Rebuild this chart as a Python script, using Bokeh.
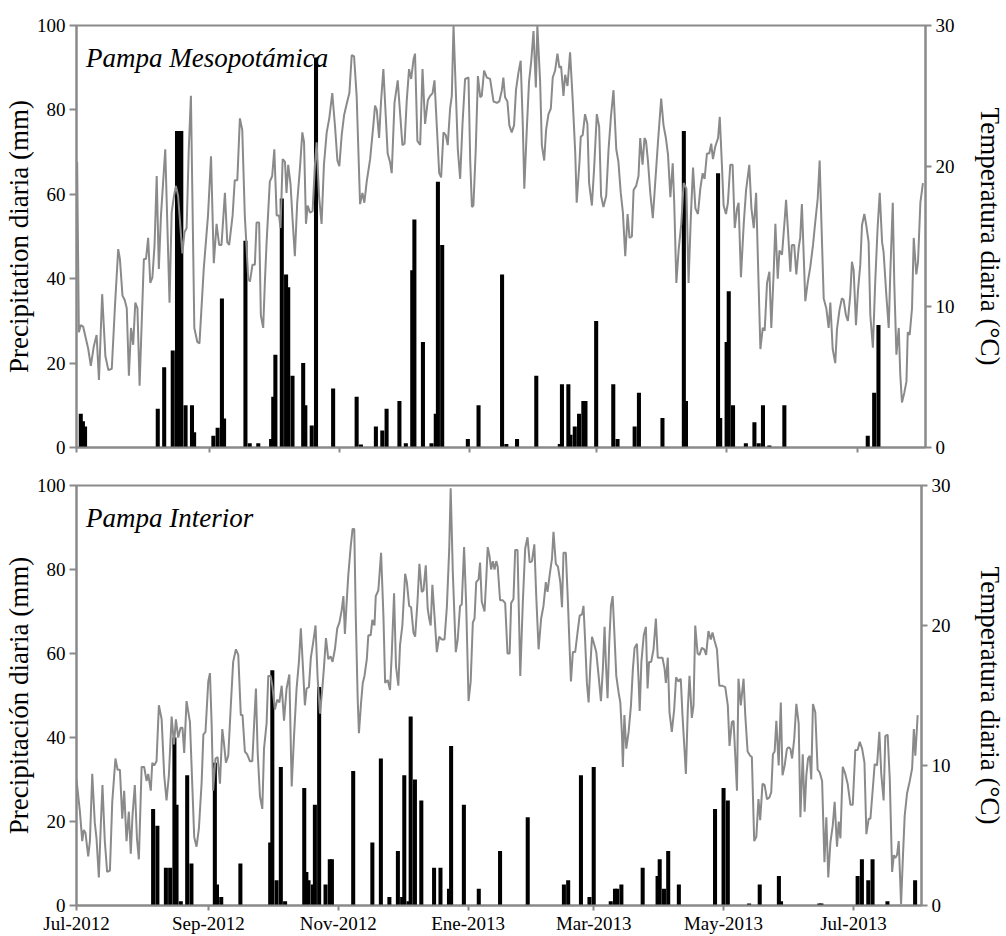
import datetime as dt
from bokeh.plotting import figure
from bokeh.models import Range1d, LinearAxis, FixedTicker, Label
from bokeh.layouts import column
from bokeh.embed import file_html
from bokeh.resources import INLINE

# ---------------- data ----------------
start_date = dt.date(2012, 7, 1)
tick_dates = [dt.date(2012, 7, 1), dt.date(2012, 9, 1), dt.date(2012, 11, 1), dt.date(2013, 1, 1),
              dt.date(2013, 3, 1), dt.date(2013, 5, 1), dt.date(2013, 7, 1)]
tick_labels = ["Jul-2012", "Sep-2012", "Nov-2012", "Ene-2013", "Mar-2013", "May-2013", "Jul-2013"]
n_days = 397

# Pampa Mesopotamica - daily precipitation (day since 1-Jul-2012, mm)
meso_rain_day = [2, 3, 4, 38, 41, 45, 47, 48, 49, 51, 54, 55,
                 64, 66, 68, 69, 79, 81, 85, 91, 92, 93, 96, 98, 99, 101, 106, 107, 110, 112, 120,
                 131, 133, 140, 143, 145, 151, 154, 157, 158, 162, 166, 168, 169, 171, 183, 188,
                 199, 201, 206, 215, 226, 227, 230, 231, 233, 235, 237, 238, 243, 251, 253, 261, 263,
                 274, 284, 285, 300, 301, 304, 305, 307, 313, 317, 319, 321, 324, 331,
                 370, 373, 375]
meso_rain_mm = [8, 6.2, 5, 9.2, 19, 23, 75, 75, 75, 10, 10, 3.6,
                2.8, 4.7, 35.3, 6.9, 49, 1, 1, 2, 12, 22, 59, 41, 38, 17, 20, 10, 5.2, 92.4, 14,
                12, 0.7, 5, 4, 9.2, 11, 1, 42, 54, 25, 1, 8, 63, 48, 2, 10,
                41, 0.8, 2, 17, 0.8, 15, 15, 3, 5, 8, 11, 11, 30, 15, 2, 5, 13,
                7, 75, 11, 65, 7, 25, 37, 10, 1, 6, 1, 10, 0.5, 10,
                2.8, 13, 29]

# Pampa Mesopotamica - daily temperature (day, degC)
meso_temp_day = [0.3, 1.1, 2.0, 3.1, 5.5, 6.7, 8.1, 9.4, 10.5, 12.0, 13.5, 14.9, 16.5, 18.0, 19.5, 20.3, 21.5, 22.5,
                 23.5, 24.5, 25.5, 26.5, 27.5, 28.5, 29.5, 31.5, 32.5, 33.5, 34.5, 35.5, 36.5, 37.5, 38.5, 39.5,
                 41.5, 43.5, 44.5, 45.5, 46.5, 47.5, 49.5, 50.5, 51.5, 52.5, 53.5, 55.1, 56.5, 57.5, 59.5, 61.5,
                 62.9, 64.2, 65.5, 66.7, 67.8, 69.4, 70.5, 71.4, 73.0, 74.0, 75.2, 76.4, 77.5, 78.7, 80.3, 81.1,
                 82.3, 83.4, 84.2, 85.4, 86.2, 87.3, 88.1, 88.9, 90.4, 91.5, 92.5, 93.6, 94.7, 95.4, 96.4, 97.5,
                 98.2, 99.0, 100.1, 101.0, 102.1, 103.2, 104.5, 105.6, 106.4, 107.3, 108.1, 109.2, 110.4, 111.5,
                 112.3, 113.4, 114.6, 115.7, 117.0, 118.2, 119.6, 120.9, 122.0, 122.9, 124.0, 125.1, 126.3, 127.6,
                 128.7, 129.8, 131.0, 132.6, 133.7, 134.6, 135.7, 137.3, 138.8, 139.6, 140.4, 141.5, 142.4, 143.5,
                 144.6, 145.5, 146.6, 147.4, 148.7, 150.2, 151.3, 152.4, 153.4, 154.4, 155.5, 156.5, 157.6, 158.3,
                 159.4, 160.7, 161.8, 163.0, 164.3, 165.4, 166.5, 167.4, 168.5, 169.6, 170.5, 171.6, 172.7, 173.6,
                 174.7, 175.5, 176.3, 177.4, 178.3, 179.4, 180.5, 181.7, 183.3, 184.1, 184.9, 185.6, 186.7, 187.7,
                 188.8, 189.5, 190.6, 191.9, 193.4, 195.0, 196.6, 197.7, 198.9, 199.6, 200.4, 201.5, 202.4, 203.5,
                 204.6, 205.5, 206.6, 207.7, 208.7, 209.4, 210.5, 211.6, 212.6, 213.7, 214.8, 215.5, 216.8, 217.6,
                 218.7, 219.6, 220.7, 221.8, 222.7, 223.8, 224.9, 225.8, 226.6, 227.7, 228.5, 229.6, 230.8, 232.1,
                 233.2, 233.9, 235.2, 235.8, 236.7, 237.8, 238.9, 239.7, 241.0, 242.1, 243.3, 244.4, 245.3, 246.4,
                 247.7, 248.8, 249.9, 251.1, 252.4, 253.4, 254.5, 255.5, 256.6, 257.7, 258.6, 259.7, 260.5, 261.7,
                 262.8, 263.6, 264.7, 265.6, 266.3, 267.2, 268.3, 269.5, 270.6, 271.9, 273.4, 274.5, 275.6, 276.6,
                 277.7, 278.8, 279.5, 280.5, 281.6, 282.8, 283.9, 285.2, 286.2, 287.3, 288.3, 289.4, 290.6, 291.7,
                 292.8, 293.7, 294.8, 295.9, 296.8, 297.6, 298.7, 300.0, 300.8, 301.8, 302.6, 303.7, 304.6, 305.7,
                 306.8, 307.8, 308.9, 309.6, 310.7, 312.0, 313.1, 314.6, 315.6, 316.7, 317.8, 318.7, 319.8, 320.9,
                 321.8, 322.9, 324.0, 324.9, 326.0, 326.8, 327.9, 328.7, 329.9, 331.2, 331.8, 332.7, 333.8, 334.5,
                 335.6, 336.6, 337.7, 338.4, 339.2, 340.8, 341.9, 343.1, 344.4, 345.5, 346.6, 347.5, 348.6, 349.4,
                 350.6, 351.7, 352.5, 353.6, 354.8, 355.6, 356.8, 357.9, 358.7, 359.8, 360.7, 361.8, 362.6, 363.4,
                 364.5, 365.4, 366.5, 367.3, 368.4, 369.3, 370.4, 371.2, 372.4, 373.5, 374.6, 375.6, 376.7, 377.4,
                 378.7, 379.8, 380.6, 381.7, 382.4, 383.4, 384.5, 385.2, 386.0, 387.1, 388.1, 388.7, 389.6, 390.7,
                 391.5, 392.7, 393.5, 394.6, 395.8]
meso_temp_c = [20.3, 8.2, 8.7, 8.6, 7.0, 5.8, 7.2, 8.0, 4.8, 10.9, 6.5, 5.5, 5.6, 10.1, 14.1, 13.4, 10.8, 10.5,
               9.9, 5.1, 8.5, 7.3, 10.3, 9.9, 4.4, 13.4, 13.4, 14.9, 11.7, 12.1, 14.4, 19.3, 12.7, 16.5,
               21.2, 10.3, 16.7, 17.8, 18.6, 17.9, 13.8, 15.3, 15.6, 21.2, 25.0, 8.5, 7.5, 7.4, 12.7, 16.5,
               20.7, 13.1, 15.9, 14.4, 14.4, 18.1, 14.6, 14.4, 16.5, 19.0, 19.0, 23.4, 22.6, 16.5, 12.0, 11.8,
               13.0, 13.0, 16.0, 16.0, 9.4, 8.5, 11.8, 14.6, 18.9, 19.3, 21.2, 16.5, 16.5, 15.6, 20.5, 20.3,
               18.1, 20.1, 18.7, 16.3, 13.6, 17.4, 19.9, 22.4, 21.7, 15.9, 17.2, 16.7, 16.8, 20.1,
               21.7, 17.9, 15.9, 20.1, 22.4, 23.4, 25.2, 22.8, 20.4, 20.0, 22.2, 23.6, 24.4, 25.2,
               27.9, 27.8, 25.0, 17.3, 18.1, 17.4, 18.9, 20.5, 22.9, 24.3, 24.0, 22.0, 24.6, 26.9,
               23.6, 20.9, 20.3, 19.5, 24.5, 26.1, 23.8, 21.5, 21.6, 24.6, 26.9, 26.2, 27.6, 28.0,
               21.8, 21.5, 26.9, 23.0, 24.7, 25.0, 25.2, 26.1, 22.8, 19.5, 19.2, 22.4, 22.2, 21.5,
               24.1, 25.0, 30.0, 25.2, 21.2, 19.1, 23.0, 26.2, 26.3, 20.4, 17.1, 17.2, 21.2, 26.4,
               24.9, 25.0, 26.8, 26.3, 26.2, 24.6, 24.5, 24.6, 25.4, 26.3, 24.9, 24.6, 22.9, 22.4,
               22.9, 25.4, 26.6, 27.5, 22.9, 18.4, 22.4, 26.0, 27.4, 29.6, 25.6, 30.0, 26.0, 21.5,
               20.4, 22.6, 23.7, 24.1, 26.3, 26.8, 28.0, 27.0, 27.1, 25.0, 26.5, 25.7, 28.1, 24.5,
               21.0, 17.4, 20.3, 22.1, 22.2, 23.7, 23.0, 18.8, 17.2, 20.0, 23.7, 22.8, 17.9, 17.1,
               17.9, 21.2, 23.5, 25.4, 21.2, 20.3, 18.1, 16.7, 13.6, 16.6, 14.9, 15.0, 18.3, 18.6,
               19.3, 22.0, 20.1, 22.0, 21.8, 20.4, 18.1, 16.3, 18.8, 21.7, 24.8, 22.9, 22.0, 20.8,
               17.8, 20.2, 17.4, 11.7, 14.1, 15.9, 18.8, 18.4, 11.7, 16.5, 19.9, 17.0, 16.6, 18.4,
               19.5, 19.1, 20.9, 20.9, 21.6, 20.5, 21.4, 22.0, 23.5, 20.1, 17.2, 16.6, 17.4, 20.1,
               20.1, 15.6, 17.0, 17.4, 12.1, 15.9, 18.3, 20.1, 17.0, 15.6, 18.1, 13.0, 7.0, 8.5,
               8.3, 11.7, 12.5, 8.5, 12.4, 15.9, 12.0, 14.0, 13.7, 16.3, 17.6, 15.4, 12.5, 14.4,
               14.4, 12.3, 14.2, 14.9, 17.3, 10.4, 11.7, 12.8, 14.4, 16.1, 17.7, 20.4, 14.6, 10.6,
               9.9, 8.5, 10.3, 7.0, 6.0, 8.4, 9.8, 10.6, 10.5, 9.4, 9.0, 10.8, 13.2, 12.6,
               8.7, 11.1, 13.0, 15.8, 16.6, 15.8, 14.6, 9.4, 7.1, 11.8, 15.6, 18.1, 14.6, 13.9,
               10.8, 8.5, 12.7, 17.4, 11.7, 6.6, 8.5, 5.2, 3.2, 3.9, 4.7, 8.2, 8.0, 9.9,
               14.9, 12.3, 13.2, 17.4, 18.8]

# Pampa Interior - daily precipitation (day since 1-Jul-2012, mm)
int_rain_day = [36, 38, 42, 44, 46, 47, 49, 52, 54,
                65, 66, 68, 77, 91, 92, 94, 96, 98, 107, 108, 109, 111, 112, 114, 117, 119, 120, 130,
                139, 143, 147, 151, 153, 154, 156, 157, 159, 162, 168, 171, 175, 176, 182, 189, 199,
                212, 229, 231, 237, 241, 243, 251, 253, 254, 256, 266,
                273, 274, 276, 278, 283, 300, 304, 306, 316, 321, 330, 331,
                349, 350, 367, 369, 372, 374, 381, 394]
int_rain_mm = [23, 19, 9, 9, 40, 24, 1, 31, 10,
               34, 5, 2, 10, 15, 56, 6, 33, 1, 28, 8, 6, 5, 24, 52, 5, 11, 11, 32,
               15, 35, 2, 13, 2, 31, 1, 45, 30, 25, 9, 9, 4, 38, 24, 4, 13,
               21, 5, 6, 31, 2, 33, 1, 4, 4, 5, 9,
               7, 11, 4, 13, 5, 23, 28, 25, 0.5, 5, 7, 1,
               0.5, 0.5, 7, 11, 6, 11, 1, 6]

# Pampa Interior - daily temperature (day, degC)
int_temp_day = [0.0, 1.6, 2.7, 3.4, 4.2, 5.5, 6.3, 7.4, 8.6, 9.4, 10.5, 11.4, 12.2, 13.3, 14.4, 15.7, 16.8, 18.3,
                19.3, 20.4, 21.5, 22.4, 23.5, 24.6, 25.5, 26.3, 27.4, 28.4, 29.3, 30.6, 31.8, 32.9, 33.7, 34.9,
                35.6, 36.5, 37.6, 38.7, 40.0, 41.2, 42.3, 43.4, 44.7, 45.8, 46.7, 47.8, 48.9, 49.8, 50.6, 51.7,
                53.3, 54.4, 55.3, 56.4, 57.5, 58.8, 59.6, 60.6, 61.9, 62.7, 63.5, 64.2, 65.3, 66.3, 67.4, 68.5,
                69.2, 70.2, 71.3, 72.4, 73.6, 74.9, 76.0, 77.2, 78.0, 79.1, 80.2, 81.5, 82.6, 83.4, 84.3, 85.1,
                86.2, 87.3, 88.1, 89.3, 90.1, 91.2, 92.0, 93.2, 94.3, 95.3, 96.4, 97.5, 98.7, 100.0, 101.1, 102.2,
                103.4, 104.5, 105.4, 106.5, 107.3, 108.1, 109.2, 110.1, 111.2, 112.3, 113.3, 114.4, 115.5, 116.3,
                117.2, 118.3, 119.4, 120.3, 121.4, 122.5, 123.5, 124.6, 125.4, 126.1, 126.9, 127.7, 128.8, 129.7,
                130.5, 131.2, 132.1, 132.7, 133.7, 134.5, 135.3, 136.4, 137.1, 138.2, 139.0, 140.0, 140.6, 141.8,
                143.1, 144.2, 145.0, 146.2, 147.3, 148.1, 149.2, 150.1, 151.2, 152.0, 153.1, 154.4, 155.2, 156.3,
                157.2, 158.3, 159.1, 160.2, 161.1, 162.2, 163.0, 164.1, 165.0, 165.7, 166.4, 167.2, 168.2, 169.3,
                170.4, 171.6, 172.9, 174.0, 175.1, 175.8, 176.8, 178.2, 179.1, 180.2, 181.0, 182.1, 183.1, 184.2,
                185.2, 186.2, 187.0, 187.8, 188.9, 189.6, 190.4, 191.7, 192.5, 193.2, 194.0, 194.8, 195.6, 196.4,
                197.2, 197.9, 199.0, 200.3, 201.4, 202.5, 203.5, 204.2, 205.3, 206.1, 207.2, 208.5, 209.7, 210.8,
                211.9, 212.9, 214.0, 215.1, 216.0, 217.1, 218.3, 219.4, 220.5, 221.3, 222.3, 223.4, 224.1, 225.2,
                226.2, 227.3, 228.1, 228.8, 229.9, 230.9, 231.7, 232.3, 233.2, 234.3, 235.4, 236.4, 237.5, 238.2,
                239.0, 239.8, 240.6, 241.4, 242.2, 243.3, 244.2, 245.3, 246.4, 247.3, 248.1, 248.7, 249.5, 250.3,
                251.1, 251.9, 252.7, 253.6, 254.7, 255.5, 256.3, 256.7, 257.4, 258.3, 259.4, 260.5, 261.4, 262.2,
                263.3, 264.1, 264.6, 265.4, 266.5, 267.5, 268.3, 269.0, 270.0, 271.1, 272.2, 273.1, 274.2, 275.3,
                276.3, 276.9, 277.8, 278.6, 279.7, 280.8, 281.7, 282.8, 283.9, 284.7, 285.7, 286.3, 287.2, 288.0,
                289.1, 289.9, 290.7, 291.8, 292.7, 293.8, 294.9, 295.8, 296.9, 298.0, 298.8, 299.8, 300.9, 302.0,
                303.2, 304.8, 306.0, 306.8, 307.9, 308.7, 310.3, 311.0, 312.1, 313.4, 314.2, 315.3, 316.5, 317.3,
                318.4, 319.4, 320.4, 321.2, 322.3, 323.3, 324.4, 325.5, 326.4, 327.2, 328.0, 328.8, 329.9, 330.9,
                331.7, 332.7, 333.8, 334.6, 335.4, 336.2, 337.2, 338.2, 339.3, 340.1, 341.2, 342.1, 342.9, 343.7,
                344.5, 345.2, 346.0, 347.1, 348.2, 349.2, 350.3, 351.4, 352.3, 353.2, 354.2, 355.3, 356.2, 357.3,
                358.1, 358.9, 360.0, 361.2, 362.3, 363.6, 364.7, 365.9, 367.0, 368.0, 369.1, 370.2, 371.1, 372.2,
                373.0, 374.2, 375.0, 376.1, 377.2, 378.1, 379.2, 380.0, 381.1, 382.1, 383.2, 384.0, 384.7, 385.5,
                386.3, 387.4, 388.3, 389.1, 390.2, 391.5, 392.6, 393.4, 394.1, 395.2]
int_temp_c = [9.0, 6.7, 4.6, 5.4, 5.2, 3.5, 4.6, 9.4, 5.9, 4.8, 2.0, 5.7, 8.6, 4.6, 2.4, 2.5, 7.4, 10.5,
              9.7, 9.7, 6.2, 8.2, 4.6, 6.7, 3.7, 6.4, 8.6, 4.8, 3.3, 9.9, 9.9, 8.9, 9.4, 8.2,
              10.2, 10.0, 10.3, 14.3, 13.3, 9.3, 7.5, 9.3, 13.5, 11.5, 13.3, 12.0, 12.7, 12.7, 10.9, 14.6,
              13.1, 8.6, 4.9, 4.2, 5.5, 8.8, 12.2, 12.4, 16.0, 16.6, 12.9, 8.2, 10.5, 10.6, 8.7, 12.6,
              11.7, 10.2, 10.7, 14.0, 17.4, 18.3, 17.9, 13.6, 13.6, 11.0, 10.8, 10.3, 10.3, 12.8, 15.5, 11.0,
              7.8, 6.9, 11.2, 13.0, 16.4, 16.4, 15.7, 14.0, 14.7, 14.5, 15.7, 13.2, 15.5, 16.5, 8.5, 12.1,
              15.5, 17.4, 19.8, 16.7, 14.3, 15.5, 15.6, 17.7, 18.8, 20.0, 16.2, 13.7, 15.5, 17.1,
              19.1, 17.6, 17.8, 17.4, 18.3, 19.8, 20.2, 21.1, 22.1, 19.4, 21.6, 23.6, 25.6, 26.9,
              26.9, 20.7, 14.8, 12.3, 14.5, 15.9, 16.4, 17.6, 19.3, 19.3, 20.4, 20.0, 22.1, 22.5,
              25.2, 20.7, 15.9, 16.1, 15.4, 17.9, 22.3, 17.1, 15.7, 18.6, 20.0, 23.7, 23.1, 21.4,
              21.3, 19.5, 19.2, 21.7, 24.4, 22.4, 22.5, 24.3, 21.2, 20.5, 20.0, 22.9, 20.7, 18.1,
              19.2, 19.0, 19.0, 21.3, 25.4, 29.8, 23.8, 18.1, 19.0, 21.4, 21.5, 25.6, 21.4, 14.6,
              16.0, 20.2, 20.5, 23.1, 23.3, 24.5, 21.7, 21.0, 23.3, 25.6, 25.0, 24.0, 24.6, 24.0,
              24.6, 24.2, 21.8, 21.8, 21.6, 18.0, 18.0, 21.6, 21.9, 25.4, 25.4, 16.4, 21.7, 25.5,
              26.3, 24.5, 24.6, 25.8, 22.1, 18.3, 20.5, 21.4, 23.1, 22.4, 23.6, 24.8, 26.7, 24.4,
              24.2, 23.1, 21.3, 25.2, 25.2, 21.6, 18.3, 16.0, 18.1, 18.1, 19.5, 20.7, 20.8, 21.4,
              18.8, 15.9, 14.5, 17.1, 19.2, 18.6, 18.1, 16.4, 14.6, 16.9, 19.9, 17.4, 14.8, 18.8,
              21.4, 22.1, 19.5, 16.4, 15.2, 14.5, 12.1, 9.9, 13.6, 11.2, 12.4, 14.3, 16.9, 18.4,
              18.7, 16.0, 13.9, 17.4, 19.3, 19.9, 15.5, 17.4, 17.4, 18.3, 20.5, 17.7, 17.7, 17.7,
              16.9, 15.9, 17.7, 13.8, 12.4, 14.0, 16.3, 16.0, 16.2, 13.6, 11.0, 9.4, 14.0, 16.4,
              13.4, 14.3, 20.0, 18.0, 17.9, 18.4, 18.3, 17.9, 19.6, 19.0, 19.5, 18.9, 18.3, 15.7,
              15.7, 15.6, 14.3, 11.4, 13.1, 13.2, 8.2, 16.2, 14.3, 16.2, 13.6, 11.0, 10.7, 10.6,
              4.6, 4.9, 7.6, 6.1, 8.7, 8.6, 7.6, 7.7, 8.1, 10.8, 11.0, 13.2, 10.0, 14.5,
              9.3, 10.0, 11.2, 11.3, 11.2, 10.5, 11.9, 14.4, 13.0, 6.3, 10.8, 6.7, 9.3, 10.5,
              10.7, 9.0, 14.4, 13.8, 9.7, 9.5, 8.9, 3.1, 6.3, 2.0, 4.5, 5.7, 7.4, 4.2,
              6.0, 4.8, 9.9, 9.4, 8.7, 7.2, 7.2, 11.1, 11.1, 11.7, 11.2, 10.2, 5.1, 6.2,
              6.2, 8.5, 10.1, 10.0, 12.4, 9.4, 7.5, 12.1, 12.2, 9.0, 2.4, 3.6, 3.4, 3.6,
              4.6, 0.1, 3.6, 6.4, 8.0, 8.9, 9.8, 12.6, 10.7, 13.6]

precip_ticks = [0, 20, 40, 60, 80, 100]
temp_ticks = [0, 10, 20, 30]

# ---------------- style ----------------
GRAY = "#8a8a8a"
FONT = "Liberation Serif"
tick_pos = [(d - start_date).days for d in tick_dates]


def make_panel(title, ylabel, rain_d, rain_v, temp_d, temp_v, frame_w, frame_h,
               border_top, border_bottom, show_xlabels, right_standoff):
    p = figure(frame_width=frame_w, frame_height=frame_h,
               x_range=Range1d(0, n_days), y_range=Range1d(0, 100),
               output_backend="svg", toolbar_location=None,
               min_border_left=75, min_border_right=1006 - 75 - frame_w,
               min_border_top=border_top, min_border_bottom=border_bottom)
    p.extra_y_ranges = {"temp": Range1d(0, 30)}
    p.grid.visible = False
    p.outline_line_color = GRAY
    p.outline_line_width = 2
    p.background_fill_color = "white"
    p.border_fill_color = "white"

    p.vbar(x=rain_d, top=rain_v, width=1.9, fill_color="black", line_color=None)
    p.line(temp_d, temp_v, y_range_name="temp", line_color=GRAY, line_width=2)

    raxis = LinearAxis(y_range_name="temp")
    p.add_layout(raxis, "right")

    for ax in p.axis:
        ax.axis_line_color = GRAY
        ax.axis_line_width = 2
        ax.major_tick_line_color = GRAY
        ax.major_tick_line_width = 2
        ax.minor_tick_line_color = None
        ax.major_tick_in = 0
        ax.major_label_text_font = FONT
        ax.major_label_text_font_size = "19px"
        ax.major_label_text_color = "black"
        ax.axis_label_text_font = FONT
        ax.axis_label_text_font_size = "27px"
        ax.axis_label_text_font_style = "normal"
        ax.axis_label_text_color = "black"

    yl = p.yaxis[0]
    yl.ticker = FixedTicker(ticks=precip_ticks)
    yl.major_tick_out = 7
    yl.major_label_standoff = 4
    yl.axis_label = ylabel
    yl.axis_label_standoff = 0

    raxis.ticker = FixedTicker(ticks=temp_ticks)
    raxis.major_tick_out = 6
    raxis.major_label_standoff = 4
    raxis.axis_label = "Temperatura diaria (°C)"
    raxis.axis_label_standoff = right_standoff

    xa = p.xaxis[0]
    xa.ticker = FixedTicker(ticks=tick_pos)
    xa.major_tick_out = 5
    xa.major_label_standoff = 2
    if show_xlabels:
        xa.major_label_overrides = {t: l for t, l in zip(tick_pos, tick_labels)}
    else:
        xa.major_label_overrides = {t: "" for t in tick_pos}
        xa.major_label_text_font_size = "0px"

    p.add_layout(Label(x=4.5, y=92.2, text=title, text_font=FONT, text_font_style="italic",
                       text_font_size="27px", text_color="black", text_baseline="alphabetic"))
    return p


p1 = make_panel("Pampa Mesopotámica", "Precipitation diaria (mm)", meso_rain_day, meso_rain_mm,
                meso_temp_day, meso_temp_c, 849, 422, 25, 13, False, 17)
p2 = make_panel("Pampa Interior", "Precipitación diaria (mm)", int_rain_day, int_rain_mm,
                int_temp_day, int_temp_c, 845, 420, 25, 30, True, 21)

layout = column(p1, p2, spacing=0)
open("out.html", "w").write(file_html(layout, INLINE))
